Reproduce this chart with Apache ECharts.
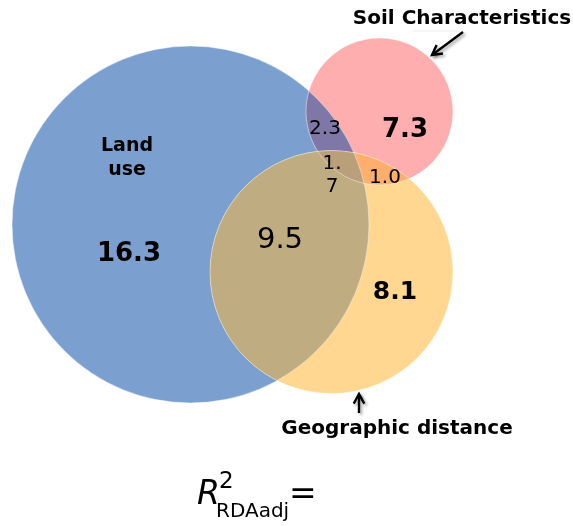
<!DOCTYPE html>
<html><head><meta charset="utf-8">
<script src="https://cdn.jsdelivr.net/npm/echarts@6/dist/echarts.min.js"></script>
<style>html,body{margin:0;padding:0;background:#fff}#c{width:573px;height:526px}</style>
</head><body><div id="c"></div>
<script>
// ---- data ----
const setNames = ['Land\nuse', 'Soil Characteristics', 'Geographic distance'];
const circleX = [190.5, 379.5, 331.5];
const circleY = [224.5, 111.5, 272];
const circleR = [178.5, 73.5, 121.5];
const circleColors = ['#7b9fcf', '#ffaeb0', '#ffd791'];
// overlap regions (indices of circles) and their colours
const regionSets = [[0, 2], [0, 1], [1, 2], [0, 1, 2]];
const regionColors = ['#bfac81', '#7f77a8', '#ffae6e', '#b9a07a'];
// region values: Land only, Soil only, Geo only, Land∩Geo, Land∩Soil, Soil∩Geo, all
const regionValues = [16.3, 7.3, 8.1, 9.5, 2.3, 1.0, 1.7];

// ---- layout (label positions / styles) ----
const valueLabelPos = [[129, 254], [405, 130], [395, 292], [280, 240], [325, 129], [385, 178], [332, 175]];
const valueLabelBold = [true, true, true, false, false, false, false];
const valueLabelSize = [26, 26, 25, 29, 20, 20, 20];
const setLabelPos = [[127, 158], [462, 19], [397, 429]];
const setLabelSize = [19, 20, 20];
const arrows = [[[463, 32], [432, 55]], [[359, 413], [359, 394]]];

const FONT = 'DejaVu Sans';

function fmt(i) {
  const s = regionValues[i].toFixed(1);
  return i === 6 ? s.slice(0, 2) + '\n' + s.slice(2) : s;
}

function regionPolygon(api, sets) {
  const cs = sets.map(k => {
    const c = api.coord([circleX[k], circleY[k]]);
    return { x: c[0], y: c[1], r: api.size([circleR[k], 0])[0] };
  });
  const pts = [];
  const N = 1440;
  cs.forEach((c, ci) => {
    for (let j = 0; j < N; j++) {
      const a = j / N * Math.PI * 2;
      const px = c.x + c.r * Math.cos(a), py = c.y + c.r * Math.sin(a);
      let inside = true;
      cs.forEach((o, oi) => {
        if (oi !== ci && Math.hypot(px - o.x, py - o.y) > o.r + 0.01) inside = false;
      });
      if (inside) pts.push([px, py]);
    }
  });
  let mx = 0, my = 0;
  pts.forEach(p => { mx += p[0]; my += p[1]; });
  mx /= pts.length; my /= pts.length;
  pts.sort((a, b) => Math.atan2(a[1] - my, a[0] - mx) - Math.atan2(b[1] - my, b[0] - mx));
  return pts;
}

const chart = echarts.init(document.getElementById('c'));
chart.setOption({
  animation: false,
  grid: { left: 0, right: 0, top: 0, bottom: 0 },
  xAxis: { type: 'value', min: 0, max: 573, show: false },
  yAxis: { type: 'value', min: 0, max: 526, inverse: true, show: false },
  series: [
    {
      type: 'custom', silent: true,
      data: circleX.map((x, i) => [i]),
      renderItem: function (params, api) {
        const k = api.value(0);
        const c = api.coord([circleX[k], circleY[k]]);
        return { type: 'circle', shape: { cx: c[0], cy: c[1], r: api.size([circleR[k], 0])[0] },
          style: { fill: circleColors[k] } };
      }
    },
    {
      type: 'custom', silent: true,
      data: regionSets.map((s, i) => [i]),
      renderItem: function (params, api) {
        const i = api.value(0);
        return { type: 'polygon', shape: { points: regionPolygon(api, regionSets[i]) },
          style: { fill: regionColors[i] } };
      }
    },
    {
      type: 'custom', silent: true,
      data: circleX.map((x, i) => [i]),
      renderItem: function (params, api) {
        const k = api.value(0);
        const c = api.coord([circleX[k], circleY[k]]);
        return { type: 'circle', shape: { cx: c[0], cy: c[1], r: api.size([circleR[k], 0])[0] },
          style: { fill: 'none', stroke: 'rgba(255,255,255,0.45)', lineWidth: 1 } };
      }
    },
    {
      type: 'custom', silent: true,
      data: regionValues.map((v, i) => [i]),
      renderItem: function (params, api) {
        const i = api.value(0);
        const p = api.coord(valueLabelPos[i]);
        return { type: 'text', x: p[0], y: p[1],
          style: { text: fmt(i), fill: '#000', align: 'center', verticalAlign: 'middle',
            textAlign: 'center', textVerticalAlign: 'middle', lineHeight: i === 6 ? 23 : undefined,
            font: (valueLabelBold[i] ? 'bold ' : '') + valueLabelSize[i] + 'px "' + FONT + '"' } };
      }
    },
    {
      type: 'custom', silent: true,
      data: setNames.map((v, i) => [i]),
      renderItem: function (params, api) {
        const i = api.value(0);
        const p = api.coord(setLabelPos[i]);
        return { type: 'text', x: p[0], y: p[1],
          style: { text: setNames[i], fill: '#000', align: 'center', verticalAlign: 'middle',
            textAlign: 'center', textVerticalAlign: 'middle', lineHeight: 24,
            font: 'bold ' + setLabelSize[i] + 'px "' + FONT + '"' } };
      }
    },
    {
      type: 'custom', silent: true,
      data: arrows.map((v, i) => [i]),
      renderItem: function (params, api) {
        const a = arrows[api.value(0)];
        const s = api.coord(a[0]), e = api.coord(a[1]);
        const ang = Math.atan2(e[1] - s[1], e[0] - s[0]);
        const L = 11, w = 0.5;
        const h1 = [e[0] - L * Math.cos(ang - w), e[1] - L * Math.sin(ang - w)];
        const h2 = [e[0] - L * Math.cos(ang + w), e[1] - L * Math.sin(ang + w)];
        const st = { stroke: '#000', lineWidth: 2.4, fill: 'none',
          shadowColor: 'rgba(0,0,0,0.35)', shadowBlur: 3, shadowOffsetX: 2, shadowOffsetY: 2 };
        return { type: 'group', children: [
          { type: 'polyline', shape: { points: [s, e] }, style: st },
          { type: 'polyline', shape: { points: [h1, e, h2] }, style: st }
        ] };
      }
    }
  ],
  graphic: [
    { type: 'line', shape: { x1: 412, y1: 46, x2: 412, y2: 79 }, style: { stroke: '#fff', lineWidth: 2 } },
    { type: 'line', shape: { x1: 413, y1: 31, x2: 460, y2: 31 }, style: { stroke: 'rgba(210,210,210,0.4)', lineWidth: 1 } },
    { type: 'polyline', shape: { points: [[339.5, 393], [339.5, 375.5], [379, 375.5]] }, style: { stroke: '#fff', lineWidth: 1.2, fill: 'none' } },
    { type: 'text', x: 197, y: 512, style: { text: 'R', font: 'italic 33px "' + FONT + '"', fill: '#000', textVerticalAlign: 'bottom', verticalAlign: 'bottom' } },
    { type: 'text', x: 219, y: 494, style: { text: '2', font: '23px "' + FONT + '"', fill: '#000', textVerticalAlign: 'bottom', verticalAlign: 'bottom' } },
    { type: 'text', x: 216, y: 522, style: { text: 'RDAadj', font: '20px "' + FONT + '"', fill: '#000', textVerticalAlign: 'bottom', verticalAlign: 'bottom' } },
    { type: 'text', x: 289, y: 512, style: { text: '=', font: '33px "' + FONT + '"', fill: '#000', textVerticalAlign: 'bottom', verticalAlign: 'bottom' } }
  ]
});
</script></body></html>
